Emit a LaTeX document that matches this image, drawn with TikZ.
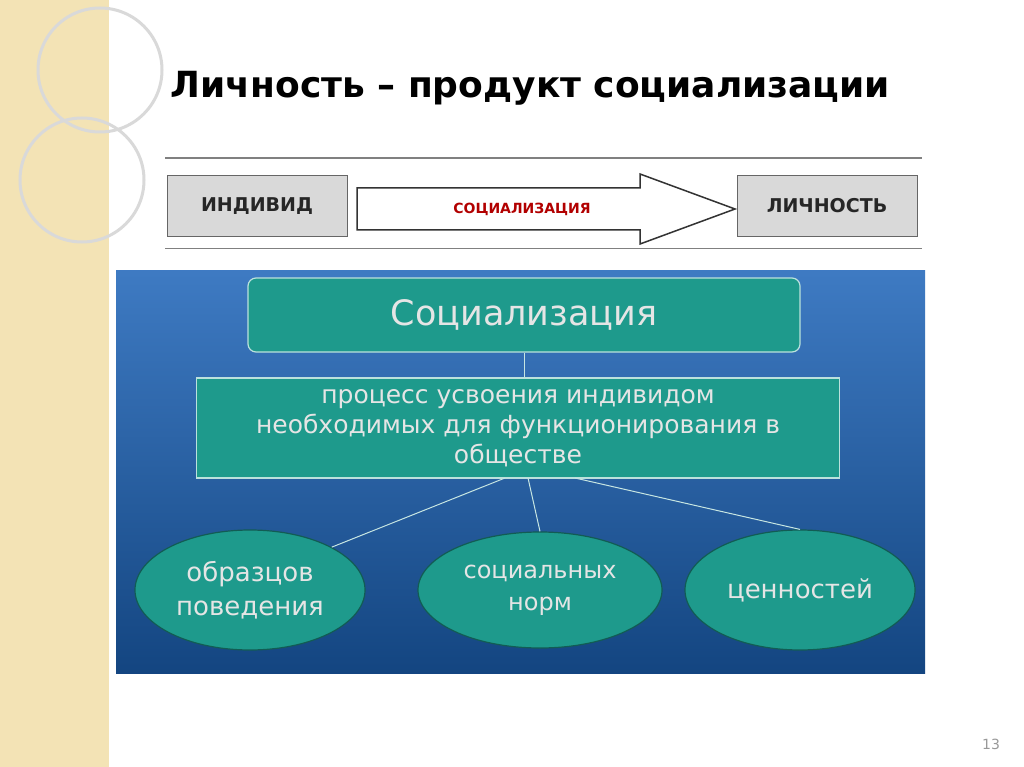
\documentclass[tikz,border=0pt]{standalone}
\usepackage{fontspec}
\setmainfont{DejaVu Sans}
\usetikzlibrary{shapes.geometric}
\definecolor{beige}{HTML}{F3E3B5}
\definecolor{panel}{HTML}{1C63B8}
\definecolor{teal}{HTML}{1E9A8C}
\definecolor{grayb}{HTML}{D9D9D9}
\tikzset{
 greybox/.style={draw=black!60,fill=grayb,minimum width=180pt,minimum height=61pt,font=\bfseries\fontsize{19}{24}\selectfont,text=black!85},
 tealbox/.style={draw=white!70!teal,line width=1.2pt,fill=teal,text=white!90!black,align=center},
 tealell/.style={ellipse,inner sep=0pt,draw=teal!60!black,line width=1.2pt,fill=teal,text=white!90!black,align=center,font=\fontsize{26}{34}\selectfont},
 link/.style={draw=white!75!teal,line width=1pt}
}
\begin{document}
\begin{tikzpicture}[x=1pt,y=-1pt]
\useasboundingbox (0,0) rectangle (1024,767);
\fill[white] (0,0) rectangle (1024,767);
\fill[beige] (0,0) rectangle (110,767);
\draw[white,line width=3pt] (110,0) -- (110,767);
\draw[white!85!black,line width=3pt] (100,70) circle (62);
\draw[white!85!black,line width=3pt] (82,180) circle (62);
\node[font=\bfseries\fontsize{36}{42}\selectfont,anchor=west] (title) at (167,88) {Личность – продукт социализации};
\draw[black!50,line width=1.5pt] (165,158) -- (922,158);
\draw[black!50,line width=1pt] (165,248) -- (922,248);
\node[greybox] (ind) at (257,206) {ИНДИВИД};
\node[greybox] (lich) at (827,206) {ЛИЧНОСТЬ};
\draw[black!80,line width=1.5pt,fill=white] (357,188) -- (640,188) -- (640,174) -- (735,209) -- (640,244) -- (640,230) -- (357,230) -- cycle;
\node[text=red!70!black,font=\bfseries\fontsize{14}{17}\selectfont] (soc) at (522,209) {СОЦИАЛИЗАЦИЯ};
\shade[top color=panel!85!white,bottom color=panel!70!black] (116,270) rectangle (925,673);
\node[tealbox,rounded corners=8pt,minimum width=552pt,minimum height=74pt,font=\fontsize{35}{40}\selectfont] (s) at (524,315) {Социализация};
\node[tealbox,minimum width=643pt,minimum height=100pt,font=\fontsize{25}{30}\selectfont] (p) at (518,428) {процесс усвоения индивидом\\необходимых для функционирования в\\обществе};
\node[tealell,minimum width=230pt,minimum height=120pt] (e1) at (250,590) {образцов\\поведения};
\node[tealell,minimum width=244pt,minimum height=116pt,font=\fontsize{24}{32}\selectfont] (e2) at (540,590) {социальных\\норм};
\node[tealell,minimum width=230pt,minimum height=120pt] (e3) at (800,590) {ценностей};
\draw[link] (505,478) -- (e1.north east);
\draw[link] (s.south) -- (s.south|-p.north);
\draw[link] (528,478) -- (e2.north);
\draw[link] (575,478) -- (e3.north);
\node[text=black!40,font=\fontsize{14}{16}\selectfont] (num) at (991,744) {13};
\end{tikzpicture}
\end{document}
